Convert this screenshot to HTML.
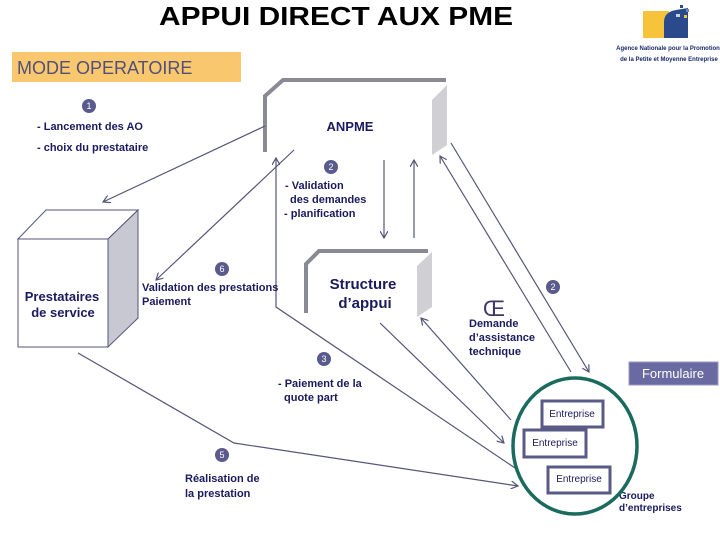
<!DOCTYPE html>
<html><head><meta charset="utf-8"><style>
body{margin:0;background:#fff}
svg{display:block}
text{font-family:"Liberation Sans",sans-serif}
.t{fill:#1a1a5e;font-size:11px;font-weight:bold}
</style></head><body>
<svg width="720" height="540" viewBox="0 0 720 540" xmlns="http://www.w3.org/2000/svg">
<defs>
<marker id="a" markerWidth="8" markerHeight="8" refX="7" refY="4" orient="auto" markerUnits="userSpaceOnUse">
<path d="M0,0 L7,4 L0,8" fill="none" stroke="#55557a" stroke-width="1.2"/></marker>
</defs>
<text x="336" y="25" text-anchor="middle" font-size="26" font-weight="bold" fill="#000" textLength="354" lengthAdjust="spacingAndGlyphs">APPUI DIRECT AUX PME</text>
<!-- logo -->
<rect x="643" y="11" width="26" height="27" fill="#f6c33a"/>
<path d="M664,38 L664,22 Q664,12 676,10 L688,8 L688,38 Z" fill="#2b4a8c"/>
<rect x="680" y="5" width="3" height="3" fill="#2b4a8c"/><rect x="686" y="9" width="3" height="3" fill="#6a8ac0"/><rect x="676" y="14" width="4" height="3" fill="#c8d4e8"/><rect x="684" y="15" width="3" height="3" fill="#f6c33a"/>
<text x="668" y="50" font-size="6" font-weight="bold" fill="#1a2a6a" text-anchor="middle">Agence Nationale pour la Promotion</text>
<text x="669" y="61" font-size="6" font-weight="bold" fill="#1a2a6a" text-anchor="middle">de la Petite et Moyenne Entreprise</text>
<!-- mode operatoire -->
<rect x="12" y="52" width="229" height="30" fill="#f9c86e"/>
<text x="17" y="74" font-size="18" fill="#50507a">MODE OPERATOIRE</text>
<!-- ANPME box -->
<path d="M265,152 L265,96 L283,80 L446,80" fill="none" stroke="#8a8a96" stroke-width="4"/>
<path d="M432,100 L447,85 L447,145 L432,155 Z" fill="#cfcfd4"/>
<text x="350" y="131" class="t" style="font-size:13px" text-anchor="middle">ANPME</text>
<!-- Structure box -->
<path d="M306,313 L306,264 L319,251 L428,251" fill="none" stroke="#8a8a96" stroke-width="4"/>
<path d="M417,266 L432,252 L432,307 L417,317 Z" fill="#cfcfd4"/>
<text x="363" y="289" class="t" style="font-size:15px" text-anchor="middle">Structure</text>
<text x="365" y="308" class="t" style="font-size:15px" text-anchor="middle">d’appui</text>
<!-- Prestataires cube -->
<path d="M18,239 L46,210 L138,210 L108,239 Z" fill="#fff" stroke="#55557a"/>
<path d="M108,239 L138,210 L138,318 L108,347 Z" fill="#c8c8d2" stroke="#55557a"/>
<rect x="18" y="239" width="90" height="108" fill="#fff" stroke="#55557a"/>
<text x="62" y="301" class="t" style="font-size:13px" text-anchor="middle">Prestataires</text>
<text x="63" y="317" class="t" style="font-size:13px" text-anchor="middle">de service</text>
<!-- lines -->
<g stroke="#55557a" stroke-width="1.2" fill="none">
<line x1="265" y1="126" x2="103" y2="202" marker-end="url(#a)"/>
<line x1="294" y1="150" x2="156" y2="280" marker-end="url(#a)"/>
<polyline points="518,470 276,307 276,158" marker-end="url(#a)"/>
<line x1="384" y1="160" x2="384" y2="238" marker-end="url(#a)"/>
<line x1="414" y1="238" x2="414" y2="160" marker-end="url(#a)"/>
<line x1="380" y1="323" x2="504" y2="443" marker-end="url(#a)"/>
<line x1="511" y1="420" x2="421" y2="318" marker-end="url(#a)"/>
<line x1="571" y1="372" x2="440" y2="156" marker-end="url(#a)"/>
<line x1="451" y1="143" x2="589" y2="372" marker-end="url(#a)"/>
<polyline points="78,353 234,443 518,486" marker-end="url(#a)"/>
</g>
<!-- circles -->
<g fill="#5a5a8c"><circle cx="89" cy="106" r="7"/><circle cx="331" cy="167" r="7"/><circle cx="222" cy="269" r="7"/><circle cx="553" cy="287" r="7"/><circle cx="324" cy="359" r="7"/><circle cx="222" cy="455" r="7"/></g>
<g fill="#fff" font-size="9" text-anchor="middle"><text x="89" y="109">1</text><text x="331" y="170">2</text><text x="222" y="272">6</text><text x="553" y="290">2</text><text x="324" y="362">3</text><text x="222" y="458">5</text></g>
<text x="494" y="316" font-family="Liberation Serif" font-size="22" fill="#3a3a6a" text-anchor="middle">Œ</text>
<!-- labels -->
<text class="t" x="37" y="130">- Lancement des AO</text>
<text class="t" x="37" y="151">- choix du prestataire</text>
<text class="t" x="285" y="189">- Validation</text>
<text class="t" x="290" y="203">des demandes</text>
<text class="t" x="284" y="217">- planification</text>
<text class="t" x="142" y="291">Validation des prestations</text>
<text class="t" x="142" y="305">Paiement</text>
<text class="t" x="469" y="327">Demande</text>
<text class="t" x="469" y="341">d’assistance</text>
<text class="t" x="469" y="355">technique</text>
<text class="t" x="278" y="387">- Paiement de la</text>
<text class="t" x="284" y="401">quote part</text>
<text class="t" x="185" y="482">Réalisation de</text>
<text class="t" x="185" y="497">la prestation</text>
<text class="t" x="619" y="499" style="font-size:10px">Groupe</text>
<text class="t" x="619" y="511" style="font-size:10px">d’entreprises</text>
<!-- formulaire -->
<rect x="629" y="362" width="89" height="23" fill="#6a6aa2" stroke="#9a9ac0"/>
<text x="673" y="378" font-size="13" fill="#fff" text-anchor="middle">Formulaire</text>
<!-- ellipse -->
<ellipse cx="575" cy="446" rx="62" ry="68" fill="none" stroke="#1a6b5e" stroke-width="3.5"/>
<g fill="#fff" stroke="#5a5a86" stroke-width="3"><rect x="542" y="401" width="61" height="26"/><rect x="524" y="430" width="62" height="27"/><rect x="548" y="467" width="62" height="26"/></g>
<g font-family="Liberation Serif" font-size="10" fill="#1a1a5e" text-anchor="middle"><text x="572" y="417">Entreprise</text><text x="555" y="446">Entreprise</text><text x="579" y="482">Entreprise</text></g>
</svg>
</body></html>
